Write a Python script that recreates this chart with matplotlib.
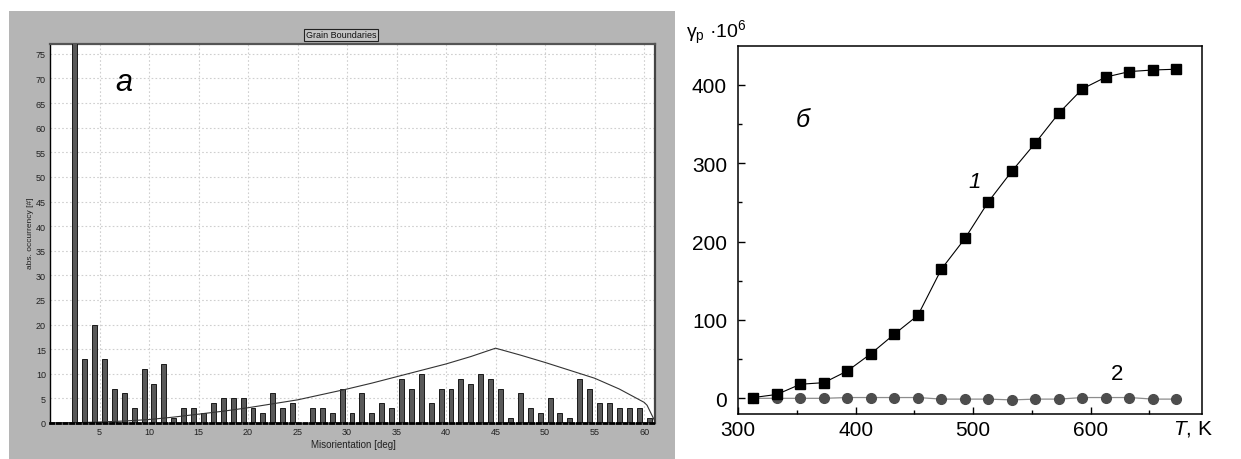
import matplotlib
matplotlib.use('Agg')
import matplotlib.pyplot as plt
import numpy as np
from matplotlib.patches import Rectangle

plt.rcParams['mathtext.fontset'] = 'custom'
plt.rcParams['mathtext.rm'] = 'Liberation Sans'
plt.rcParams['mathtext.it'] = 'Liberation Sans:italic'

# Part (a): misorientation histogram
bin_centers = np.arange(2.5, 61.0, 1.0)
counts = [100, 13, 20, 13, 7, 6, 3, 11, 8, 12,
          1, 3, 3, 2, 4, 5, 5, 5, 3, 2,
          6, 3, 4, 0, 3, 3, 2, 7, 2, 6,
          2, 4, 3, 9, 7, 10, 4, 7, 7, 9,
          8, 10, 9, 7, 1, 6, 3, 2, 5, 2,
          1, 9, 7, 4, 4, 3, 3, 3, 1]

# random (Mackenzie) distribution line
mack_x = [0, 2.5, 5, 7.5, 10, 12.5, 15, 17.5, 20, 22.5, 25, 27.5, 30, 32.5,
          35, 37.5, 40, 42.5, 45, 47.5, 50, 52.5, 55, 57.5, 60, 60.3, 61.1]
mack_y = [0, 0.05, 0.2, 0.4, 0.7, 1.2, 1.8, 2.4, 3.1, 3.9, 4.7, 5.8, 6.9, 8.1,
          9.4, 10.7, 12.0, 13.5, 15.2, 13.8, 12.3, 10.7, 9.1, 6.9, 4.2, 3.6, 0.3]

# Part (b): gamma_p vs temperature
temps = [313, 333, 353, 373, 393, 413, 433, 453, 473, 493,
         513, 533, 553, 573, 593, 613, 633, 653, 673]
gamma1 = [1, 5, 18, 20, 35, 57, 82, 106, 165, 204,
          251, 290, 326, 364, 395, 410, 417, 419, 420]
gamma2 = [0, 0, 0, 0, 1, 1, 1, 1, -1, -1,
          -1, -2, -1, -1, 1, 1, 1, -1, -1]

W, H = 1241, 460
fig = plt.figure(figsize=(W / 100, H / 100), dpi=100)

# gray panel behind the histogram
fig.patches.append(Rectangle((9 / W, 0), (675 - 9) / W, (460 - 12) / H,
                             transform=fig.transFigure, facecolor='#b5b5b5',
                             edgecolor='none', zorder=-10))

small = ['Liberation Sans Narrow', 'Liberation Sans', 'DejaVu Sans']

ax1 = fig.add_axes([50 / W, (H - 424) / H, (655 - 50) / W, (424 - 45) / H])
ax1.set_facecolor('white')
ax1.bar(bin_centers, counts, width=0.5, color='#595959', edgecolor='#1a1a1a',
        linewidth=0.7, zorder=3)
ax1.plot(mack_x, mack_y, color='#333333', linewidth=0.8, zorder=4)
ax1.set_xlim(0, 61.1)
ax1.set_ylim(0, 77)
ax1.set_xticks(np.arange(5, 61, 5))
ax1.set_yticks(np.arange(0, 76, 5))
ax1.grid(True, color='#cfcfcf', linestyle=(0, (1.5, 2)), linewidth=0.8, zorder=0)
ax1.tick_params(length=0, pad=3, labelsize=6.5, colors='#222222')
for lbl in ax1.get_xticklabels() + ax1.get_yticklabels():
    lbl.set_family(small)
ax1.spines['left'].set_color('black')
ax1.spines['left'].set_linewidth(1.0)
ax1.spines['bottom'].set_color('black')
ax1.spines['bottom'].set_linewidth(2.0)
ax1.spines['bottom'].set_linestyle((0, (1.2, 1.2)))
ax1.spines['top'].set_color('#555555')
ax1.spines['top'].set_linewidth(1.6)
ax1.spines['right'].set_color('#444444')
ax1.spines['right'].set_linewidth(1.6)
ax1.spines['bottom'].set_zorder(5)

fig.text(353 / W, 1 - 445 / H, 'Misorientation [deg]', ha='center', va='center',
         fontsize=7, family=small, color='#222222')
fig.text(30 / W, 1 - 233 / H, 'abs. occurrency [#]', ha='center', va='center',
         rotation=90, fontsize=6, family=small, color='#222222')
fig.text(341 / W, 1 - 36 / H, 'Grain Boundaries', ha='center', va='center',
         fontsize=6.5, family=small, color='#111111',
         bbox=dict(boxstyle='square,pad=0.2', facecolor='#c4c4c4',
                   edgecolor='#222222', linewidth=0.8))
ax1.text(0.122, 0.9, 'а', transform=ax1.transAxes, fontsize=22, style='italic',
         family='Liberation Sans', ha='center', va='center')

# right panel
ax2 = fig.add_axes([738.2 / W, (H - 415) / H, (1201.7 - 738.2) / W, (415 - 46.7) / H])
ax2.plot(temps, gamma2, color='#8c8c8c', linewidth=0.9, marker='o',
         markersize=7, markerfacecolor='#4d4d4d', markeredgecolor='#4d4d4d', zorder=3)
ax2.plot(temps, gamma1, color='black', linewidth=0.8, marker='s',
         markersize=7, markerfacecolor='black', markeredgecolor='black', zorder=4)
ax2.set_xlim(300, 694.5)
ax2.set_ylim(-20, 450)
ax2.set_xticks([300, 400, 500, 600])
ax2.set_xticks([350, 450, 550, 650], minor=True)
ax2.set_yticks([0, 100, 200, 300, 400])
ax2.set_yticks([50, 150, 250, 350], minor=True)
ax2.tick_params(which='major', direction='in', length=5, width=1, labelsize=15)
ax2.tick_params(which='minor', direction='in', length=3, width=1)
ax2.tick_params(axis='x', pad=4)
ax2.tick_params(axis='y', pad=8)
for lbl in ax2.get_xticklabels() + ax2.get_yticklabels():
    lbl.set_family('Liberation Sans')
for sp in ax2.spines.values():
    sp.set_linewidth(1.1)

fig.text(1193 / W, 1 - 429 / H, '$T$, K', ha='center', va='center',
         fontsize=15, family='Liberation Sans')
fig.text(686 / W, 1 - 33 / H, 'γ$_\\mathrm{p}$ ·10$^6$', ha='left',
         va='center', fontsize=14, family='Liberation Sans')
fig.text(803 / W, 1 - 120 / H, 'б', ha='center', va='center', fontsize=18,
         style='italic', family='Liberation Sans')
fig.text(975 / W, 1 - 183 / H, '1', ha='center', va='center', fontsize=16,
         style='italic', family='Liberation Sans')
fig.text(1117 / W, 1 - 375 / H, '2', ha='center', va='center', fontsize=16,
         family='Liberation Sans')

fig.savefig('out.png', dpi=100)
